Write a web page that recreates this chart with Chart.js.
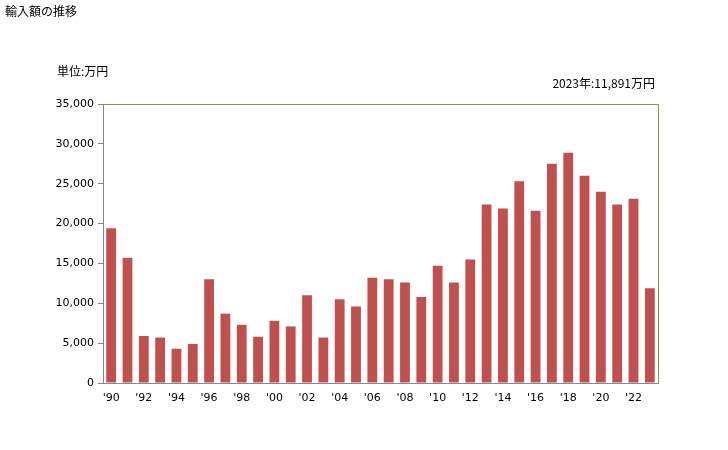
<!DOCTYPE html>
<html>
<head>
<meta charset="utf-8">
<script src="https://cdn.jsdelivr.net/npm/chart.js@4/dist/chart.umd.min.js"></script>
<style>
  body { margin: 0; background: #fff; }
  #wrap { position: relative; width: 728px; height: 450px; font-family: "Noto Sans CJK JP", "DejaVu Sans", sans-serif; color: #000; }
  .txt { position: absolute; font-size: 12px; white-space: nowrap; line-height: 1; }
</style>
</head>
<body>
<div id="wrap">
  <canvas id="myChart" width="728" height="450"></canvas>
  <div class="txt" style="left:5px; top:5px;">輸入額の推移</div>
  <div class="txt" style="left:57px; top:65px;">単位:万円</div>
  <div class="txt" style="right:73px; top:77px;">2023年:11,891万円</div>
</div>
<script>
// years 1990 - 2023
const years = ['1990','1991','1992','1993','1994','1995','1996','1997','1998','1999',
  '2000','2001','2002','2003','2004','2005','2006','2007','2008','2009',
  '2010','2011','2012','2013','2014','2015','2016','2017','2018','2019',
  '2020','2021','2022','2023']

// 輸入額 (万円)
const importValues = [19400, 15700, 5900, 5700, 4300, 4900, 13000, 8700, 7300, 5800,
  7800, 7100, 11000, 5700, 10500, 9600, 13200, 13000, 12600, 10800,
  14700, 12600, 15500, 22400, 21900, 25300, 21600, 27500, 28900, 26000,
  24000, 22400, 23100, 11891]

const yTicks = [0, 5000, 10000, 15000, 20000, 25000, 30000, 35000]

// top and right frame lines are olive, the axes are gray
const frameLines = {
  id: 'frameLines',
  afterDraw(chart) {
    const a = chart.chartArea
    const ctx = chart.ctx
    ctx.save()
    ctx.strokeStyle = '#948a54'
    ctx.lineWidth = 1
    ctx.beginPath()
    ctx.moveTo(a.left, a.top + 0.5)
    ctx.lineTo(a.right + 0.5, a.top + 0.5)
    ctx.lineTo(a.right + 0.5, a.bottom)
    ctx.stroke()
    ctx.restore()
  }
}

const config = {
  type: 'bar',
  data: {
    labels: years,
    datasets: [{
      label: '輸入額',
      data: importValues,
      backgroundColor: '#c0504d',
      barPercentage: 0.6,
      categoryPercentage: 1.0
    }]
  },
  options: {
    responsive: false,
    animation: false,
    layout: { padding: { left: 0, top: 104, right: 70, bottom: 0 } },
    plugins: {
      legend: { display: false },
      tooltip: { enabled: false }
    },
    scales: {
      x: {
        grid: { display: false, drawTicks: false },
        border: { color: '#888888', width: 1 },
        ticks: {
          autoSkip: false,
          maxRotation: 0,
          padding: 9,
          color: '#000',
          font: { family: '"DejaVu Sans", sans-serif', size: 11 },
          callback: function (v, i) {
            return i % 2 === 0 ? "'" + years[i].slice(2) : ''
          }
        },
        afterFit: function (s) { s.height = 67 }
      },
      y: {
        min: 0,
        max: 35000,
        afterBuildTicks: function (s) { s.ticks = yTicks.map(v => ({ value: v })) },
        grid: { drawOnChartArea: false, drawTicks: true, tickLength: 5, color: '#888888' },
        border: { color: '#888888', width: 1 },
        ticks: {
          padding: 4,
          color: '#000',
          font: { family: '"DejaVu Sans", sans-serif', size: 11 },
          callback: function (v) { return v.toLocaleString('en-US') }
        },
        afterFit: function (s) { s.width = 103 }
      }
    }
  },
  plugins: [frameLines]
}

const chart = new Chart(document.getElementById('myChart'), config)
</script>
</body>
</html>
